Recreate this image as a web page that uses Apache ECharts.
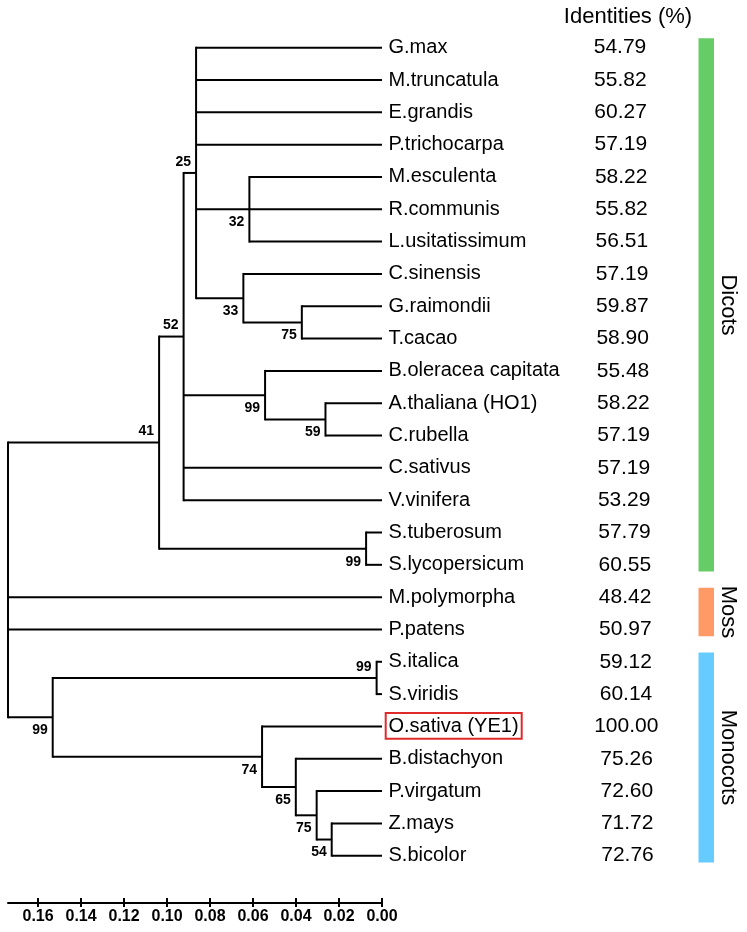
<!DOCTYPE html>
<html><head><meta charset="utf-8">
<script src="https://cdn.jsdelivr.net/npm/echarts@6/dist/echarts.min.js"></script>
<style>html,body{margin:0;padding:0;background:#fff}#c{width:747px;height:932px}</style>
</head><body><div id="c"></div>
<script>
// ---- data ----
const leafNames = ['G.max','M.truncatula','E.grandis','P.trichocarpa','M.esculenta','R.communis','L.usitatissimum','C.sinensis','G.raimondii','T.cacao','B.oleracea capitata','A.thaliana (HO1)','C.rubella','C.sativus','V.vinifera','S.tuberosum','S.lycopersicum','M.polymorpha','P.patens','S.italica','S.viridis','O.sativa (YE1)','B.distachyon','P.virgatum','Z.mays','S.bicolor'];
const identities = ['54.79','55.82','60.27','57.19','58.22','55.82','56.51','57.19','59.87','58.90','55.48','58.22','57.19','57.19','53.29','57.79','60.55','48.42','50.97','59.12','60.14','100.00','75.26','72.60','71.72','72.76'];
const nodeNames = ['root','n41','n52','n25','n32','n33','n75a','nBra','n59','nSol','nMono','nSet','n74','n65','n75b','n54'];
const nodeHeights = [0.174,0.1037,0.0923,0.0865,0.0617,0.0645,0.0373,0.0544,0.0263,0.0074,0.1532,0.0025,0.0558,0.0401,0.0304,0.0234];
const nodeSupport = [null,41,52,25,32,33,75,99,59,99,99,99,74,65,75,54];
const nodeSupportSide = ['','above','above','above','below','below','below','below','below','below','below','above','below','below','below','below'];
const nodeChildren = [
  ['n41','M.polymorpha','P.patens','nMono'],
  ['n52','nSol'],
  ['n25','nBra','C.sativus','V.vinifera'],
  ['G.max','M.truncatula','E.grandis','P.trichocarpa','n32','n33'],
  ['M.esculenta','R.communis','L.usitatissimum'],
  ['C.sinensis','n75a'],
  ['G.raimondii','T.cacao'],
  ['B.oleracea capitata','n59'],
  ['A.thaliana (HO1)','C.rubella'],
  ['S.tuberosum','S.lycopersicum'],
  ['nSet','n74'],
  ['S.italica','S.viridis'],
  ['O.sativa (YE1)','n65'],
  ['B.distachyon','n75b'],
  ['P.virgatum','n54'],
  ['Z.mays','S.bicolor']
];
const groupNames = ['Dicots','Moss','Monocots'];
const groupFirstLeaf = ['G.max','M.polymorpha','S.italica'];
const groupLastLeaf = ['S.lycopersicum','P.patens','S.bicolor'];
const axisTickValues = [0,0.02,0.04,0.06,0.08,0.10,0.12,0.14,0.16];
const highlightLeaf = 'O.sativa (YE1)';
const headerText = 'Identities (%)';

// ---- styles ----
const groupColors = ['#66cc66','#ff9966','#66ccff'];
const FONT = '"Liberation Sans", Arial, sans-serif';

// ---- layout from tree structure ----
function yOf(name){
  const li = leafNames.indexOf(name);
  if (li >= 0) return li;
  const ch = nodeChildren[nodeNames.indexOf(name)];
  return (yOf(ch[0]) + yOf(ch[ch.length-1]))/2;
}
function hOf(name){
  const ni = nodeNames.indexOf(name);
  return ni >= 0 ? nodeHeights[ni] : 0;
}
const segments = [];
const supports = [];
nodeNames.forEach((n, i) => {
  const h = nodeHeights[i];
  const ch = nodeChildren[i];
  segments.push([h, yOf(ch[0]), h, yOf(ch[ch.length-1]), 1]);
  ch.forEach(c => { const cy = yOf(c); segments.push([h, cy, hOf(c), cy, 0]); });
  if (nodeSupport[i] != null) supports.push([h, yOf(n), nodeSupport[i], nodeSupportSide[i] === 'above' ? 1 : 0]);
});
const leafData = leafNames.map((n, i) => [0, i]);
const groupData = groupNames.map((g, i) => [0, leafNames.indexOf(groupFirstLeaf[i]), leafNames.indexOf(groupLastLeaf[i]), i]);

const chart = echarts.init(document.getElementById('c'), null, {renderer:'canvas'});
const option = {
  animation: false,
  backgroundColor: '#fff',
  grid: {left: 8, right: 365, top: 47.7, bottom: 76.3},
  xAxis: [{
    type: 'value', inverse: true, min: 0, max: 0.174, offset: 47.3, position: 'bottom',
    splitLine: {show: false},
    axisLine: {show: true, onZero: false, lineStyle: {color: '#000', width: 2}},
    axisTick: {show: true, length: 4, customValues: axisTickValues, lineStyle: {color: '#000', width: 2}},
    axisLabel: {show: true, customValues: axisTickValues, margin: 6, color: '#000', fontWeight: 'bold', fontSize: 16, fontFamily: FONT,
      formatter: v => v.toFixed(2)}
  },{
    type: 'value', inverse: true, min: 0, max: 0.174, offset: 47.3, position: 'bottom',
    splitLine: {show: false},
    axisLine: {show: false, onZero: false},
    axisTick: {show: true, inside: true, length: 5, customValues: axisTickValues, lineStyle: {color: '#000', width: 2}},
    axisLabel: {show: false}
  }],
  yAxis: {type: 'value', inverse: true, min: 0, max: 25, show: false},
  graphic: [{
    type: 'text', x: 628, y: 17,
    style: {text: headerText, fill: '#000', font: '22px ' + FONT, align: 'center', verticalAlign: 'middle', textAlign: 'center', textVerticalAlign: 'middle'}
  }],
  series: [{
    type: 'custom', coordinateSystem: 'cartesian2d', data: segments,
    encode: {x: [0, 2], y: [1, 3]},
    renderItem: (params, api) => {
      const p1 = api.coord([api.value(0), api.value(1)]);
      const p2 = api.coord([api.value(2), api.value(3)]);
      const v = api.value(4) === 1;
      return {type: 'line', shape: {x1: p1[0], y1: p1[1], x2: p2[0], y2: p2[1]},
        style: {stroke: '#000', lineWidth: 2, lineCap: v ? 'square' : 'butt'}};
    }
  },{
    type: 'custom', coordinateSystem: 'cartesian2d', data: supports,
    encode: {x: 0, y: 1},
    renderItem: (params, api) => {
      const p = api.coord([api.value(0), api.value(1)]);
      const above = api.value(3) === 1;
      return {type: 'text', x: p[0] - 5, y: p[1] + (above ? -11 : 13),
        style: {text: String(api.value(2)), fill: '#000', font: 'bold 14px ' + FONT,
          align: 'right', verticalAlign: 'middle', textAlign: 'right', textVerticalAlign: 'middle'}};
    }
  },{
    type: 'custom', coordinateSystem: 'cartesian2d', data: leafData,
    encode: {x: 0, y: 1},
    renderItem: (params, api) => {
      const i = params.dataIndex;
      const p = api.coord([api.value(0), api.value(1)]);
      const children = [
        {type: 'text', x: p[0] + 6.5, y: p[1],
          style: {text: leafNames[i], fill: '#000', font: '20px ' + FONT, align: 'left', verticalAlign: 'middle', textAlign: 'left', textVerticalAlign: 'middle'}},
        {type: 'text', x: 620 + 0.3 * i, y: p[1],
          style: {text: identities[i], fill: '#000', font: '21px ' + FONT, align: 'center', verticalAlign: 'middle', textAlign: 'center', textVerticalAlign: 'middle'}}
      ];
      if (leafNames[i] === highlightLeaf) {
        children.push({type: 'rect', shape: {x: p[0] + 3.7, y: p[1] - 13.3, width: 136, height: 25.6},
          style: {fill: 'none', stroke: '#e02a2a', lineWidth: 2}});
      }
      return {type: 'group', children};
    }
  },{
    type: 'custom', coordinateSystem: 'cartesian2d', data: groupData,
    encode: {x: 0, y: [1, 2]},
    renderItem: (params, api) => {
      const gi = api.value(3);
      const top = api.coord([0, api.value(1) - 0.29])[1];
      const bot = api.coord([0, api.value(2) + 0.21])[1];
      return {type: 'group', children: [
        {type: 'rect', shape: {x: 698.5, y: top, width: 15.5, height: bot - top}, style: {fill: groupColors[gi]}},
        {type: 'text', x: 728, y: (top + bot) / 2, rotation: -Math.PI / 2,
          style: {text: groupNames[gi], fill: '#000', font: '22px ' + FONT, align: 'center', verticalAlign: 'middle', textAlign: 'center', textVerticalAlign: 'middle'}}
      ]};
    }
  }]
};
chart.setOption(option);
</script>
</body></html>
